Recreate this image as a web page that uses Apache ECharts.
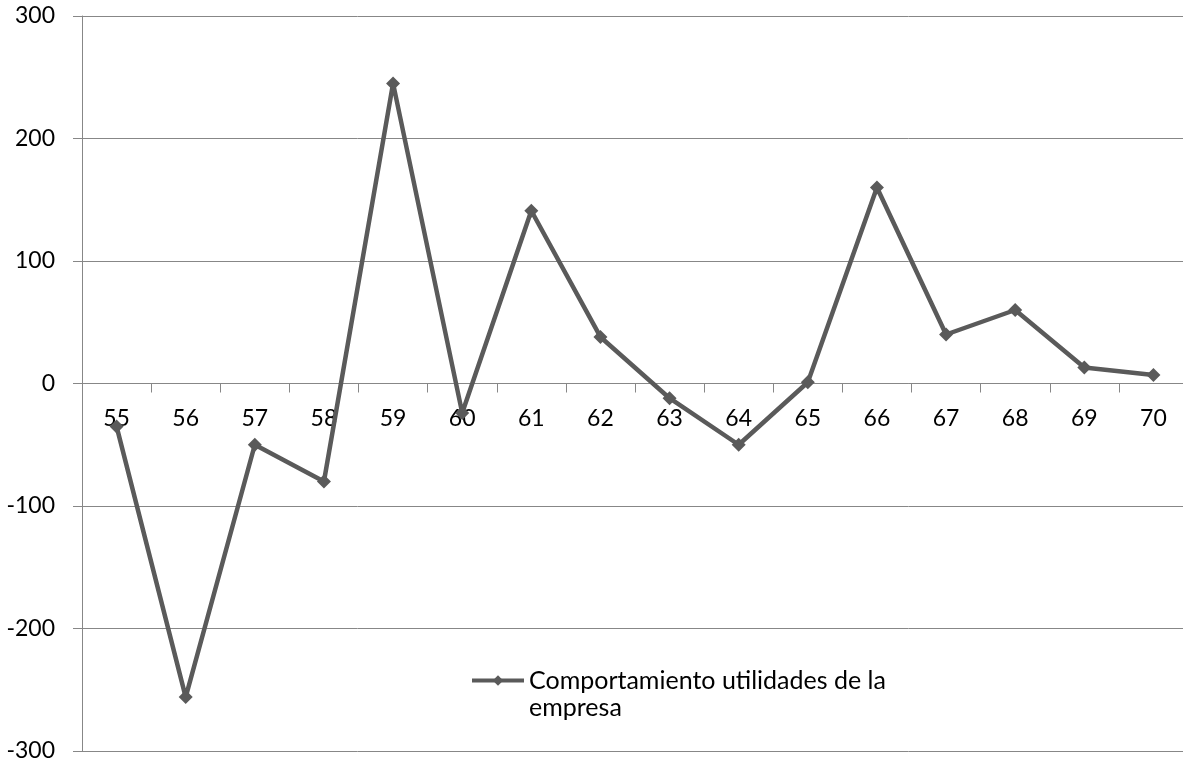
<!DOCTYPE html>
<html>
<head>
<meta charset="utf-8">
<title>Comportamiento utilidades de la empresa</title>
<script src="https://cdn.jsdelivr.net/npm/echarts@6/dist/echarts.min.js"></script>
<style>
  html, body { margin: 0; padding: 0; background: #ffffff; }
  #chart { width: 1183px; height: 763px; }
</style>
</head>
<body>
<div id="chart"></div>
<script>
// Years (categories) and company profit behaviour
const years = ['55', '56', '57', '58', '59', '60', '61', '62', '63', '64', '65', '66', '67', '68', '69', '70'];
const utilidades = [-35, -256, -50, -80, 245, -24, 141, 38, -12, -50, 1, 160, 40, 60, 13, 7];
const seriesName = 'Comportamiento utilidades de la\nempresa';

const yMin = -300;
const yMax = 300;
const yStep = 100;

const gridTop = 16;
const gridBottom = 12;
const chartHeight = 763;
// distance from the bottom edge of the grid up to the zero line
const zeroOffset = -((chartHeight - gridTop - gridBottom) * (0 - yMin) / (yMax - yMin));

const axisGray = '#878787';
const lineGray = '#5a5a5a';
const fontFamily = 'Lato, "Open Sans", sans-serif';

const chart = echarts.init(document.getElementById('chart'));

chart.setOption({
  animation: false,
  backgroundColor: '#ffffff',
  grid: { left: 82, right: -5, top: gridTop, bottom: gridBottom, containLabel: false, outerBoundsMode: 'none' },
  legend: {
    left: 470,
    top: 640,
    padding: 0,
    itemWidth: 52,
    itemHeight: 13,
    itemGap: 0,
    // a blank first line keeps the icon level with the first text line
    formatter: function (name) { return '\n' + name; },
    lineStyle: { width: 4 },
    textStyle: {
      fontFamily: fontFamily,
      fontSize: 25,
      color: '#000000',
      lineHeight: 27
    },
    data: [seriesName]
  },
  xAxis: {
    type: 'category',
    data: years,
    boundaryGap: true,
    position: 'bottom',
    offset: zeroOffset,
    axisLine: { show: true, onZero: false, lineStyle: { color: axisGray, width: 1 } },
    axisTick: { show: true, inside: false, length: 9, lineStyle: { color: axisGray } },
    axisLabel: { margin: 24, fontFamily: fontFamily, fontSize: 23, color: '#000000' },
    splitLine: { show: false }
  },
  yAxis: {
    type: 'value',
    min: yMin,
    max: yMax,
    interval: yStep,
    axisLine: { show: true, lineStyle: { color: axisGray, width: 1 } },
    axisTick: { show: true, inside: false, length: 9, lineStyle: { color: axisGray } },
    axisLabel: { margin: 27, fontFamily: fontFamily, fontSize: 23, color: '#000000' },
    splitLine: { show: true, lineStyle: { color: axisGray, width: 1 } }
  },
  series: [{
    name: seriesName,
    type: 'line',
    data: utilidades,
    symbol: 'diamond',
    symbolSize: 14,
    lineStyle: { color: lineGray, width: 4.5 },
    itemStyle: { color: lineGray, borderWidth: 0 },
    z: 5
  }]
});
</script>
</body>
</html>
